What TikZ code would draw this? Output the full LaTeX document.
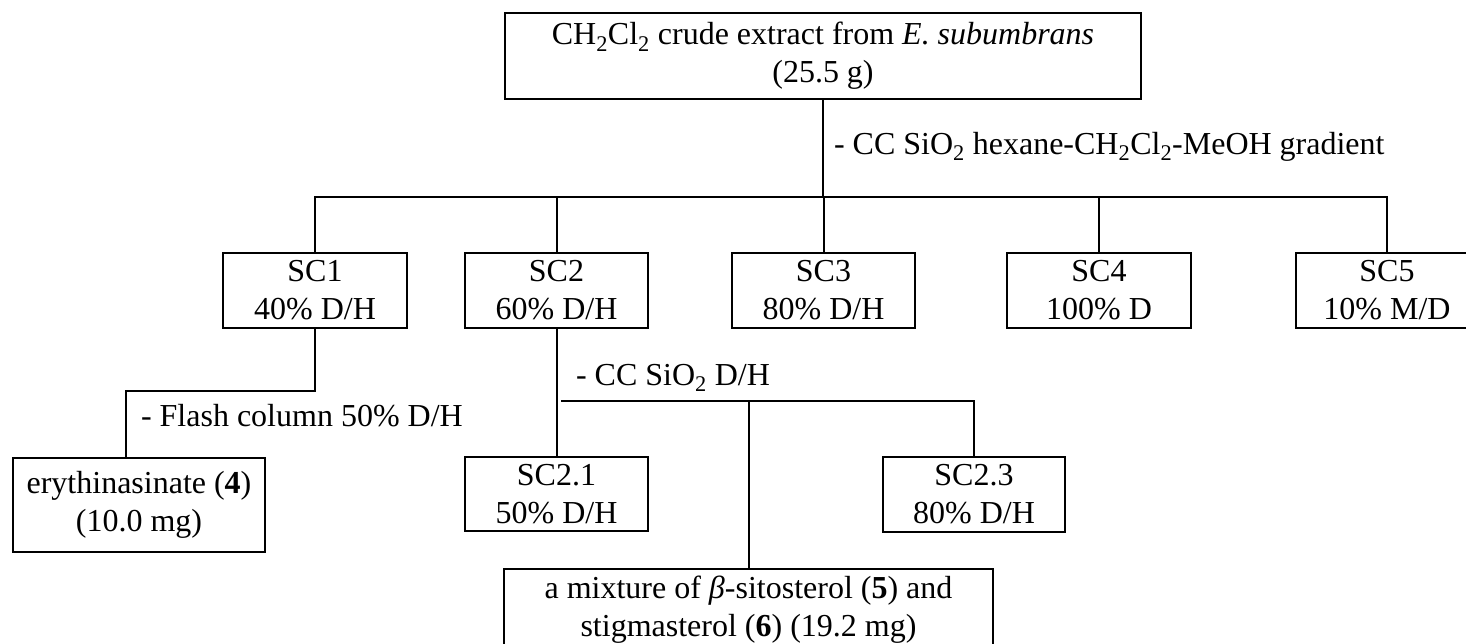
\documentclass[tikz,border=0pt]{standalone}
\usepackage{fontspec}
\setmainfont{Liberation Serif}
\usepackage{tikz}
\usetikzlibrary{positioning}

\begin{document}
\begin{tikzpicture}[x=1pt, y=-1pt, line width=2pt,
        box/.style={draw, align=center, inner sep=0pt, outer sep=0pt, font=\fontsize{32}{38}\selectfont},
        lbl/.style={anchor=base west, inner sep=0pt, font=\fontsize{32}{38}\selectfont}]
        \useasboundingbox (0, 0) rectangle (1466, 643);
        \clip (0, 0) rectangle (1466, 643);

        \node[box, minimum width=636, minimum height=86] (crude) at (823, 56) {CH\textsubscript{2}Cl\textsubscript{2} crude extract from \textit{E. subumbrans}\\(25.5 g)};

        \node[box, minimum width=184, minimum height=75] (sc1) at (315, 290.5) {SC1\\40\% D/H};
        \node[box, minimum width=183, minimum height=75] (sc2) at (556.5, 290.5) {SC2\\60\% D/H};
        \node[box, minimum width=183, minimum height=75] (sc3) at (823.5, 290.5) {SC3\\80\% D/H};
        \node[box, minimum width=184, minimum height=75] (sc4) at (1099, 290.5) {SC4\\100\% D};
        \node[box, minimum width=182, minimum height=75] (sc5) at (1387, 290.5) {SC5\\10\% M/D};

        \node[box, minimum width=252, minimum height=94] (ery) at (139, 505) {erythinasinate (\textbf{4})\\(10.0 mg)};
        \node[box, minimum width=183, minimum height=74] (sc21) at (556.5, 494) {SC2.1\\50\% D/H};
        \node[box, minimum width=182, minimum height=75] (sc23) at (974, 494.5) {SC2.3\\80\% D/H};
        \node[box, minimum width=489, minimum height=81] (mix) at (748.5, 609.5) {a mixture of \textit{β}-sitosterol (\textbf{5}) and\\stigmasterol (\textbf{6}) (19.2 mg)};

        \coordinate (bus) at (823, 197);
        \coordinate (bend) at (126, 391);
        \coordinate (subl) at (561, 401);
        \coordinate (sub) at (748.5, 401);

        \draw (crude) -- (bus);
        \draw (sc1.north) |- (bus) -| (sc5.north);
        \draw (sc2.north) -- (sc2.north |- bus);
        \draw (sc3.north) -- (sc3.north |- bus);
        \draw (sc4.north) -- (sc4.north |- bus);

        \draw (sc1.south) |- (bend) -- (bend |- ery.north);
        \draw (sc2.south) -- (sc21.north);
        \draw (subl) -| (sc23.north);
        \draw (sub) -- (mix.north);

        \node[lbl] (lcrude) at (833, 154) {- CC SiO\textsubscript{2} hexane-CH\textsubscript{2}Cl\textsubscript{2}-MeOH gradient};
        \node[lbl] (lflash) at (140, 426) {- Flash column 50\% D/H};
        \node[lbl] (lsc2) at (575, 385) {- CC SiO\textsubscript{2} D/H};
    \end{tikzpicture}
\end{document}
